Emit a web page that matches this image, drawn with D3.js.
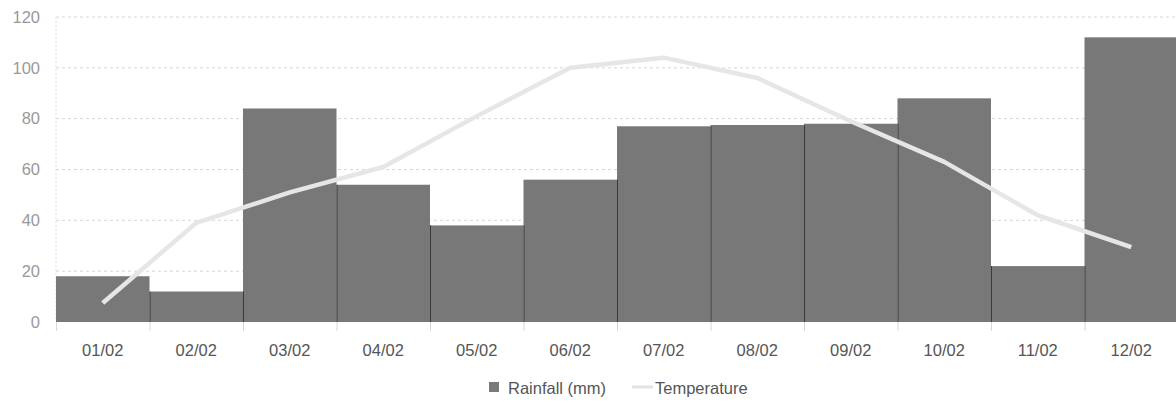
<!DOCTYPE html>
<html>
<head>
<meta charset="utf-8">
<script src="https://cdnjs.cloudflare.com/ajax/libs/d3/7.8.5/d3.min.js"></script>
<style>
  html, body { margin: 0; padding: 0; background: #fff; }
  svg { display: block; font-family: "Liberation Sans", Arial, sans-serif; }
</style>
</head>
<body>
<div id="chart"></div>
<script>
"use strict";
var dates = ["01/02","02/02","03/02","04/02","05/02","06/02","07/02","08/02","09/02","10/02","11/02","12/02"];
var rainfall = [18, 12, 84, 54, 38, 56, 77, 77.5, 78, 88, 22, 112];
var temperature = [7.5, 39, 51, 61, 81, 100, 104, 96, 79, 63, 42, 29.5];
var yTicks = [0, 20, 40, 60, 80, 100, 120];

var width = 1176, height = 403;
var m = {top: 17, right: -2, bottom: 81, left: 56};
var fontSize = "16.5px";

var svg = d3.select("#chart").append("svg")
  .attr("width", width)
  .attr("height", height);

var x = d3.scaleBand()
  .domain(dates)
  .range([m.left, width - m.right])
  .padding(0);

var y = d3.scaleLinear()
  .domain([0, 120])
  .range([height - m.bottom, m.top]);

// grid
svg.append("g")
  .selectAll("line")
  .data(yTicks.filter(function(d) { return d > 0; }))
  .enter().append("line")
  .attr("x1", m.left)
  .attr("x2", width)
  .attr("y1", function(d) { return y(d); })
  .attr("y2", function(d) { return y(d); })
  .attr("stroke", "#d6d6d6")
  .attr("stroke-dasharray", "3,3");

svg.append("line")
  .attr("x1", m.left).attr("x2", m.left)
  .attr("y1", y(120)).attr("y2", y(0))
  .attr("stroke", "#e0e0e0")
  .attr("stroke-dasharray", "2,2");

// y axis labels
var yAxis = d3.axisLeft(y).tickValues(yTicks).tickSize(0).tickPadding(16);
var ya = svg.append("g")
  .attr("transform", "translate(" + m.left + ",0)")
  .call(yAxis);
ya.select(".domain").remove();
ya.selectAll("text")
  .attr("fill", "#999")
  .style("font-size", fontSize);

// bars
svg.append("g")
  .selectAll("rect")
  .data(dates)
  .enter().append("rect")
  .attr("x", function(d) { return x(d); })
  .attr("width", x.bandwidth())
  .attr("y", function(d, i) { return y(rainfall[i]); })
  .attr("height", function(d, i) { return y(0) - y(rainfall[i]); })
  .attr("fill", "#787878");

// separators between bars
svg.append("g")
  .selectAll("line")
  .data(dates.slice(1))
  .enter().append("line")
  .attr("x1", function(d) { return x(d) + 0.5; })
  .attr("x2", function(d) { return x(d) + 0.5; })
  .attr("y1", function(d) {
    var i = dates.indexOf(d);
    return y(Math.min(rainfall[i], rainfall[i - 1]));
  })
  .attr("y2", y(0))
  .attr("stroke", "#3a3a3a")
  .attr("stroke-width", 1);

// x axis
var xAxis = d3.axisBottom(x).tickSize(0).tickPadding(22);
var xa = svg.append("g")
  .attr("transform", "translate(0," + y(0) + ")")
  .call(xAxis);
xa.select(".domain").remove();
xa.selectAll("text")
  .attr("fill", "#555")
  .style("font-size", fontSize);

// tick marks at band edges
svg.append("g")
  .selectAll("line")
  .data(dates)
  .enter().append("line")
  .attr("x1", function(d) { return x(d) + 0.5; })
  .attr("x2", function(d) { return x(d) + 0.5; })
  .attr("y1", y(0))
  .attr("y2", y(0) + 9)
  .attr("stroke", "#d8d8d8");

// temperature line
var line = d3.line()
  .x(function(d, i) { return x(dates[i]) + x.bandwidth() / 2; })
  .y(function(d) { return y(d); })
  .curve(d3.curveLinear);

svg.append("path")
  .datum(temperature)
  .attr("d", line)
  .attr("fill", "none")
  .attr("stroke", "#e6e6e6")
  .attr("stroke-width", 4.5)
  .attr("stroke-linejoin", "round")
  .attr("stroke-linecap", "butt");

// legend
var lg = svg.append("g").attr("transform", "translate(489,388)");
lg.append("rect")
  .attr("x", 0).attr("y", -6)
  .attr("width", 10).attr("height", 10)
  .attr("fill", "#7a7a7a");
lg.append("text")
  .attr("x", 19).attr("y", 0)
  .attr("dy", "0.35em")
  .attr("fill", "#555")
  .style("font-size", fontSize)
  .text("Rainfall (mm)");
lg.append("line")
  .attr("x1", 143).attr("x2", 164)
  .attr("y1", -1).attr("y2", -1)
  .attr("stroke", "#e2e2e2")
  .attr("stroke-width", 3);
lg.append("text")
  .attr("x", 166).attr("y", 0)
  .attr("dy", "0.35em")
  .attr("fill", "#555")
  .style("font-size", fontSize)
  .text("Temperature");
</script>
</body>
</html>
